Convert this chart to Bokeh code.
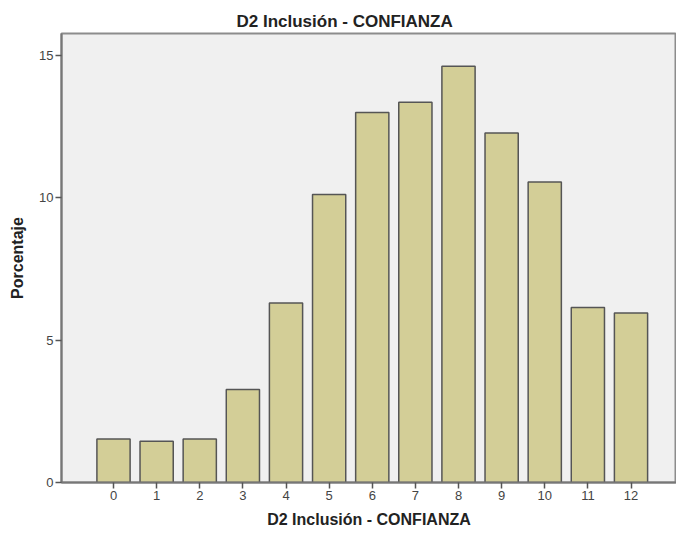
from bokeh.plotting import figure
from bokeh.models import Range1d, FixedTicker, ColumnDataSource
from bokeh.embed import file_html
from bokeh.resources import INLINE

categories = [0, 1, 2, 3, 4, 5, 6, 7, 8, 9, 10, 11, 12]
percentages = [1.53, 1.45, 1.53, 3.27, 6.31, 10.12, 13.0, 13.36, 14.63, 12.28, 10.56, 6.15, 5.96]
y_ticks = [0, 5, 10, 15]
title_text = "D2 Inclusión - CONFIANZA"
x_label = "D2 Inclusión - CONFIANZA"
y_label = "Porcentaje"

source = ColumnDataSource(data=dict(x=categories, top=percentages))

p = figure(width=676, height=533, output_backend="svg", toolbar_location=None,
           x_range=Range1d(-1.206, 13.055), y_range=Range1d(0, 15.78),
           min_border_left=61, min_border_right=0, min_border_top=33, min_border_bottom=51,
           title=title_text)

p.background_fill_color = "#f0f0f0"
p.border_fill_color = "white"
p.outline_line_color = "#8c8c8c"
p.outline_line_width = 2

p.vbar(x="x", top="top", width=0.77, bottom=0, source=source,
       fill_color="#d3ce97", line_color="#555555", line_width=1.5)

p.title.text_font = "Liberation Sans"
p.title.text_font_size = "17px"
p.title.text_font_style = "bold"
p.title.text_color = "#222222"
p.title.align = "left"
p.title.offset = 175
p.title.standoff = 5

p.xgrid.visible = False
p.ygrid.visible = False

for ax in (p.xaxis[0], p.yaxis[0]):
    ax.axis_line_color = "#777777"
    ax.axis_line_width = 2
    ax.major_tick_line_color = "#555555"
    ax.major_tick_line_width = 1.5
    ax.major_tick_out = 6
    ax.major_tick_in = 0
    ax.minor_tick_line_color = None
    ax.major_label_text_font = "Liberation Sans"
    ax.major_label_text_font_size = "13px"
    ax.major_label_text_color = "#444444"
    ax.major_label_standoff = 2
    ax.axis_label_text_font = "Liberation Sans"
    ax.axis_label_text_font_size = "16px"
    ax.axis_label_text_font_style = "bold"
    ax.axis_label_text_color = "#222222"

p.xaxis.ticker = FixedTicker(ticks=categories)
p.yaxis.ticker = FixedTicker(ticks=y_ticks)
p.xaxis.axis_label = x_label
p.yaxis.axis_label = y_label
p.xaxis.axis_label_standoff = 8
p.yaxis.axis_label_standoff = 10

open("out.html", "w").write(file_html(p, INLINE))
